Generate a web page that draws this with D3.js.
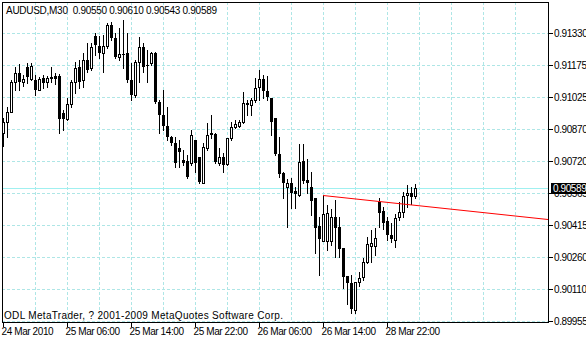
<!DOCTYPE html>
<html>
<head>
<meta charset="utf-8">
<script src="https://cdn.jsdelivr.net/npm/d3@7"></script>
<style>
  body { margin: 0; background: #fff; }
  svg text { font-family: "Liberation Sans", Arial, sans-serif; font-size: 10px; }
</style>
</head>
<body>
<div class="chart"></div>
<script>
// AUDUSD M30 candles, oldest first
var opens = [
  0.90852, 0.90904, 0.90952, 0.91095, 0.91138, 0.91095, 0.91166, 0.91109, 0.91104, 0.91057,
  0.91114, 0.91095, 0.91119, 0.91123, 0.91123, 0.90947, 0.90918, 0.90990, 0.91095, 0.91166,
  0.91104, 0.91200, 0.91162, 0.91314, 0.91267, 0.91233, 0.91267, 0.91367, 0.91305, 0.91214,
  0.91228, 0.91233, 0.91104, 0.91033, 0.91190, 0.91262, 0.91176, 0.91186, 0.91233, 0.90999,
  0.90937, 0.90885, 0.90832, 0.90804, 0.90780, 0.90723, 0.90718, 0.90709, 0.90818, 0.90737,
  0.90613, 0.90780, 0.90847, 0.90847, 0.90709, 0.90737, 0.90704, 0.90828, 0.90880, 0.90885,
  0.90904, 0.90990, 0.90985, 0.91009, 0.91071, 0.91109, 0.91052, 0.91019, 0.90923, 0.90751,
  0.90661, 0.90594, 0.90613, 0.90575, 0.90556, 0.90718, 0.90627, 0.90594, 0.90542, 0.90408,
  0.90336, 0.90336, 0.90336, 0.90451, 0.90403, 0.90303, 0.90169, 0.90136, 0.90007, 0.90141,
  0.90165, 0.90236, 0.90313, 0.90313, 0.90522, 0.90480, 0.90432, 0.90365, 0.90341, 0.90451,
  0.90475, 0.90556, 0.90565, 0.90550
]
var highs = [
  0.90923, 0.90976, 0.91104, 0.91166, 0.91181, 0.91128, 0.91186, 0.91186, 0.91128, 0.91119,
  0.91128, 0.91123, 0.91166, 0.91138, 0.91133, 0.90961, 0.91019, 0.91104, 0.91190, 0.91200,
  0.91233, 0.91281, 0.91281, 0.91329, 0.91314, 0.91319, 0.91376, 0.91381, 0.91329, 0.91352,
  0.91391, 0.91329, 0.91186, 0.91200, 0.91310, 0.91281, 0.91248, 0.91238, 0.91238, 0.91009,
  0.91057, 0.90976, 0.90837, 0.90832, 0.90818, 0.90770, 0.90747, 0.90866, 0.90818, 0.90737,
  0.90804, 0.90899, 0.90937, 0.90852, 0.90780, 0.90756, 0.90828, 0.90904, 0.90914, 0.90914,
  0.91047, 0.91009, 0.91019, 0.91114, 0.91152, 0.91128, 0.91123, 0.91019, 0.90923, 0.90832,
  0.90666, 0.90632, 0.90637, 0.90594, 0.90799, 0.90799, 0.90728, 0.90666, 0.90542, 0.90451,
  0.90556, 0.90508, 0.90489, 0.90532, 0.90451, 0.90303, 0.90169, 0.90174, 0.90141, 0.90189,
  0.90255, 0.90356, 0.90389, 0.90398, 0.90542, 0.90499, 0.90451, 0.90422, 0.90465, 0.90522,
  0.90570, 0.90604, 0.90594, 0.90610
]
var lows = [
  0.90790, 0.90832, 0.90952, 0.91057, 0.91057, 0.91076, 0.91090, 0.91104, 0.91033, 0.91057,
  0.91066, 0.91071, 0.91095, 0.91085, 0.90852, 0.90866, 0.90914, 0.90976, 0.91042, 0.91066,
  0.91071, 0.91143, 0.91152, 0.91224, 0.91209, 0.91143, 0.91257, 0.91295, 0.91209, 0.91200,
  0.91162, 0.91095, 0.91009, 0.91023, 0.91095, 0.91143, 0.91095, 0.91176, 0.90995, 0.90852,
  0.90866, 0.90818, 0.90794, 0.90689, 0.90689, 0.90699, 0.90637, 0.90699, 0.90666, 0.90613,
  0.90613, 0.90770, 0.90828, 0.90709, 0.90699, 0.90666, 0.90699, 0.90818, 0.90875, 0.90880,
  0.90899, 0.90937, 0.90937, 0.90999, 0.91009, 0.91019, 0.91009, 0.90842, 0.90747, 0.90642,
  0.90542, 0.90403, 0.90494, 0.90494, 0.90551, 0.90613, 0.90565, 0.90460, 0.90279, 0.90174,
  0.90336, 0.90294, 0.90317, 0.90260, 0.90260, 0.90112, 0.90036, 0.89993, 0.89993, 0.90122,
  0.90150, 0.90232, 0.90236, 0.90270, 0.90403, 0.90394, 0.90341, 0.90332, 0.90308, 0.90437,
  0.90451, 0.90499, 0.90513, 0.90543
]
var closes = [
  0.90904, 0.90952, 0.91095, 0.91138, 0.91095, 0.91109, 0.91119, 0.91171, 0.91057, 0.91109,
  0.91090, 0.91114, 0.91109, 0.91109, 0.90918, 0.90918, 0.90990, 0.91095, 0.91162, 0.91095,
  0.91200, 0.91152, 0.91262, 0.91271, 0.91233, 0.91267, 0.91367, 0.91305, 0.91214, 0.91228,
  0.91224, 0.91104, 0.91033, 0.91190, 0.91262, 0.91166, 0.91171, 0.91233, 0.90999, 0.90937,
  0.90885, 0.90832, 0.90804, 0.90709, 0.90761, 0.90709, 0.90642, 0.90842, 0.90709, 0.90618,
  0.90785, 0.90842, 0.90852, 0.90713, 0.90737, 0.90699, 0.90828, 0.90880, 0.90894, 0.90904,
  0.90995, 0.90995, 0.91009, 0.91066, 0.91109, 0.91052, 0.91023, 0.90904, 0.90751, 0.90656,
  0.90613, 0.90613, 0.90565, 0.90561, 0.90713, 0.90623, 0.90613, 0.90527, 0.90398, 0.90346,
  0.90465, 0.90470, 0.90451, 0.90398, 0.90298, 0.90165, 0.90136, 0.90012, 0.90141, 0.90160,
  0.90236, 0.90322, 0.90327, 0.90351, 0.90470, 0.90422, 0.90365, 0.90346, 0.90446, 0.90475,
  0.90551, 0.90565, 0.90546, 0.90589
]

var priceTicks = [0.91330, 0.91175, 0.91025, 0.90870, 0.90720, 0.90565, 0.90415, 0.90260, 0.90110, 0.89955]
var timeBars = [0, 16, 32, 48, 64, 80, 96]
var timeLabels = ['24 Mar 2010', '25 Mar 06:00', '25 Mar 14:00', '25 Mar 22:00', '26 Mar 06:00', '26 Mar 14:00', '28 Mar 22:00']
var trendBars = [80, 100]
var trendPrices = [0.90556, 0.90515]
var bid = 0.90589
var title = 'AUDUSD,M30  0.90550 0.90610 0.90543 0.90589'
var copyright = 'ODL MetaTrader, ? 2001-2009 MetaQuotes Software Corp.'

var width = 586, height = 340
var plot = {left: 2, top: 2, right: 548, bottom: 322}
var gridColor = '#aee6e6'

var data = d3.range(opens.length).map(function(i) {
  return {i: i, o: opens[i], h: highs[i], l: lows[i], c: closes[i]}
})

// 4px per bar, integer pixel output
var x = d3.scaleLinear()
    .domain([-0.25, 136.25])
    .range([plot.left, plot.right])
    .interpolate(d3.interpolateRound)
var y = d3.scaleLinear()
    .domain([0.89955, 0.91330])
    .range([321, 32.7])
    .interpolate(d3.interpolateRound)

var svg = d3.select('.chart').append('svg')
    .attr('width', width)
    .attr('height', height)
    .attr('shape-rendering', 'crispEdges')

svg.append('rect')
    .attr('width', width).attr('height', height)
    .attr('fill', '#fff')

// grid
var grid = svg.append('g')
    .attr('stroke', gridColor)
    .attr('stroke-dasharray', '3,2')

grid.selectAll('.hgrid')
  .data(priceTicks)
  .enter().append('line')
    .attr('x1', plot.left).attr('x2', plot.right)
    .attr('y1', function(d) { return y(d) + 0.5 })
    .attr('y2', function(d) { return y(d) + 0.5 })

grid.selectAll('.vgrid')
  .data(d3.range(8, 136, 8))
  .enter().append('line')
    .attr('x1', function(d) { return x(d) + 0.5 })
    .attr('x2', function(d) { return x(d) + 0.5 })
    .attr('y1', plot.top).attr('y2', plot.bottom)

// bid line
svg.append('line')
    .attr('x1', plot.left).attr('x2', plot.right)
    .attr('y1', y(bid) + 0.5).attr('y2', y(bid) + 0.5)
    .attr('stroke', '#a0f0f0')

// candles
var candle = svg.selectAll('.candle')
  .data(data)
  .enter().append('g')
    .attr('class', 'candle')

candle.append('line')
    .attr('x1', function(d) { return x(d.i) + 0.5 })
    .attr('x2', function(d) { return x(d.i) + 0.5 })
    .attr('y1', function(d) { return y(d.h) })
    .attr('y2', function(d) { return y(d.l) + 1 })
    .attr('stroke', '#000')

candle.append('rect')
    .attr('x', function(d) { return d.c > d.o ? x(d.i) - 0.5 : x(d.i) - 1 })
    .attr('y', function(d) {
      var top = y(Math.max(d.o, d.c))
      return d.c > d.o ? top + 0.5 : top
    })
    .attr('width', function(d) { return d.c > d.o ? 2 : 3 })
    .attr('height', function(d) {
      var hgt = y(Math.min(d.o, d.c)) - y(Math.max(d.o, d.c))
      return d.c > d.o ? Math.max(hgt, 0) : Math.max(hgt, 1)
    })
    .attr('fill', function(d) { return d.c > d.o ? '#fff' : '#000' })
    .attr('stroke', function(d) { return d.c > d.o ? '#000' : 'none' })

// trend line, extended to the right edge
var slope = (trendPrices[1] - trendPrices[0]) / (trendBars[1] - trendBars[0])
var endBar = x.invert(plot.right)
svg.append('line')
    .attr('x1', x(trendBars[0])).attr('y1', y(trendPrices[0]) + 0.5)
    .attr('x2', plot.right).attr('y2', y(trendPrices[0] + slope * (endBar - trendBars[0])) + 0.5)
    .attr('stroke', '#ff0000')
    .attr('shape-rendering', 'auto')

// frame
svg.append('rect')
    .attr('x', plot.left + 0.5).attr('y', plot.top + 0.5)
    .attr('width', plot.right - plot.left).attr('height', plot.bottom - plot.top)
    .attr('fill', 'none').attr('stroke', '#000')

// price axis
var yAxis = svg.append('g')
    .attr('transform', 'translate(' + (plot.right + 1) + ',0)')
    .call(d3.axisRight(y)
      .tickValues(priceTicks)
      .tickSize(4)
      .tickPadding(1)
      .tickFormat(d3.format('.5f')))
yAxis.select('.domain').remove()
yAxis.selectAll('text')
    .attr('font-family', null).attr('font-size', null)
    .attr('dy', '0.38em')
    .attr('letter-spacing', '-0.4')

// time axis
var xAxis = svg.append('g')
    .attr('transform', 'translate(0,' + (plot.bottom + 1) + ')')
    .call(d3.axisBottom(x)
      .tickValues(timeBars)
      .tickSize(4)
      .tickFormat(function(d, i) { return timeLabels[i] }))
xAxis.select('.domain').remove()
xAxis.selectAll('text')
    .attr('font-family', null).attr('font-size', null)
    .attr('text-anchor', 'start')
    .attr('x', -2)
    .attr('y', 5)
    .attr('letter-spacing', '-0.4')

// current price label
svg.append('rect')
    .attr('x', plot.right + 3).attr('y', y(bid) - 5)
    .attr('width', width - plot.right - 3).attr('height', 11)
    .attr('fill', '#000')
svg.append('text')
    .attr('x', plot.right + 5).attr('y', y(bid) + 4)
    .attr('fill', '#fff')
    .attr('letter-spacing', '-0.4')
    .text(bid.toFixed(5))

svg.append('text')
    .attr('x', 6).attr('y', 14)
    .style('white-space', 'pre')
    .attr('textLength', 211)
    .attr('lengthAdjust', 'spacing')
    .text(title)

svg.append('text')
    .attr('x', 4).attr('y', 319)
    .attr('textLength', 279)
    .attr('lengthAdjust', 'spacing')
    .text(copyright)
</script>
</body>
</html>
